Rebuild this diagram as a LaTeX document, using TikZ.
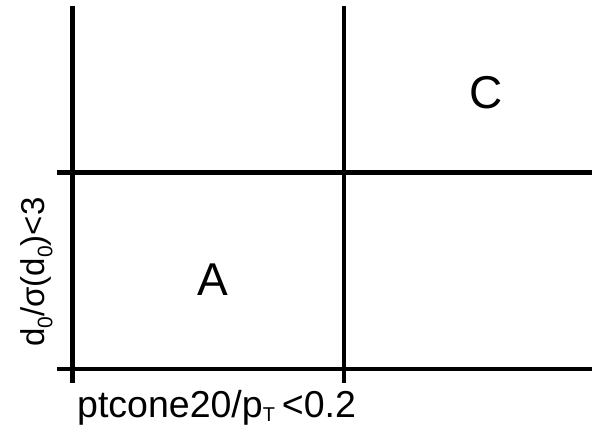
\documentclass[tikz,border=0pt]{standalone}
\usepackage{fontspec}
\setmainfont{Liberation Sans}
% lowered, smaller index as used in the axis labels
\newcommand\idx[1]{\raisebox{-0.22em}{\fontsize{21}{21}\selectfont #1}}
\newcommand\tidx[1]{\raisebox{-0.12em}{\fontsize{20}{20}\selectfont #1}}
\begin{document}
\begin{tikzpicture}[x=1pt,y=-1pt,
  grid line/.style={line width=4.8pt,black},
  region/.style={font=\fontsize{46}{46}\selectfont,inner sep=0pt},
  axis label/.style={font=\fontsize{33}{33}\selectfont,inner sep=0pt}]
\useasboundingbox (0,0) rectangle (592,424);
% end points of the grid lines
\coordinate (v1t) at (72.5,6);   \coordinate (v1b) at (72.5,383);
\coordinate (v2t) at (344,6);    \coordinate (v2b) at (344,383);
\coordinate (h1l) at (57,172.5); \coordinate (h1r) at (592,172.5);
\coordinate (h2l) at (57,369);   \coordinate (h2r) at (592,369);
\draw[grid line] (v1t) -- (v1b);
\draw[grid line] (v2t) -- (v2b);
\draw[grid line] (h1l) -- (h1r);
\draw[grid line] (h2l) -- (h2r);
% region labels
\node[region] (C) at (486,93) {C};
\node[region] (A) at (213,280) {A};
% cut labels
\node[axis label,font=\fontsize{37.5}{37.5}\selectfont,anchor=base west] (xcut) at (77,417) {ptcone20/p\tidx{T}\kern7pt<0.2};
\node[axis label,anchor=base west,rotate=90] (ycut) at (45,347) {d\idx{0}/σ(d\idx{0})<3};
\end{tikzpicture}
\end{document}
